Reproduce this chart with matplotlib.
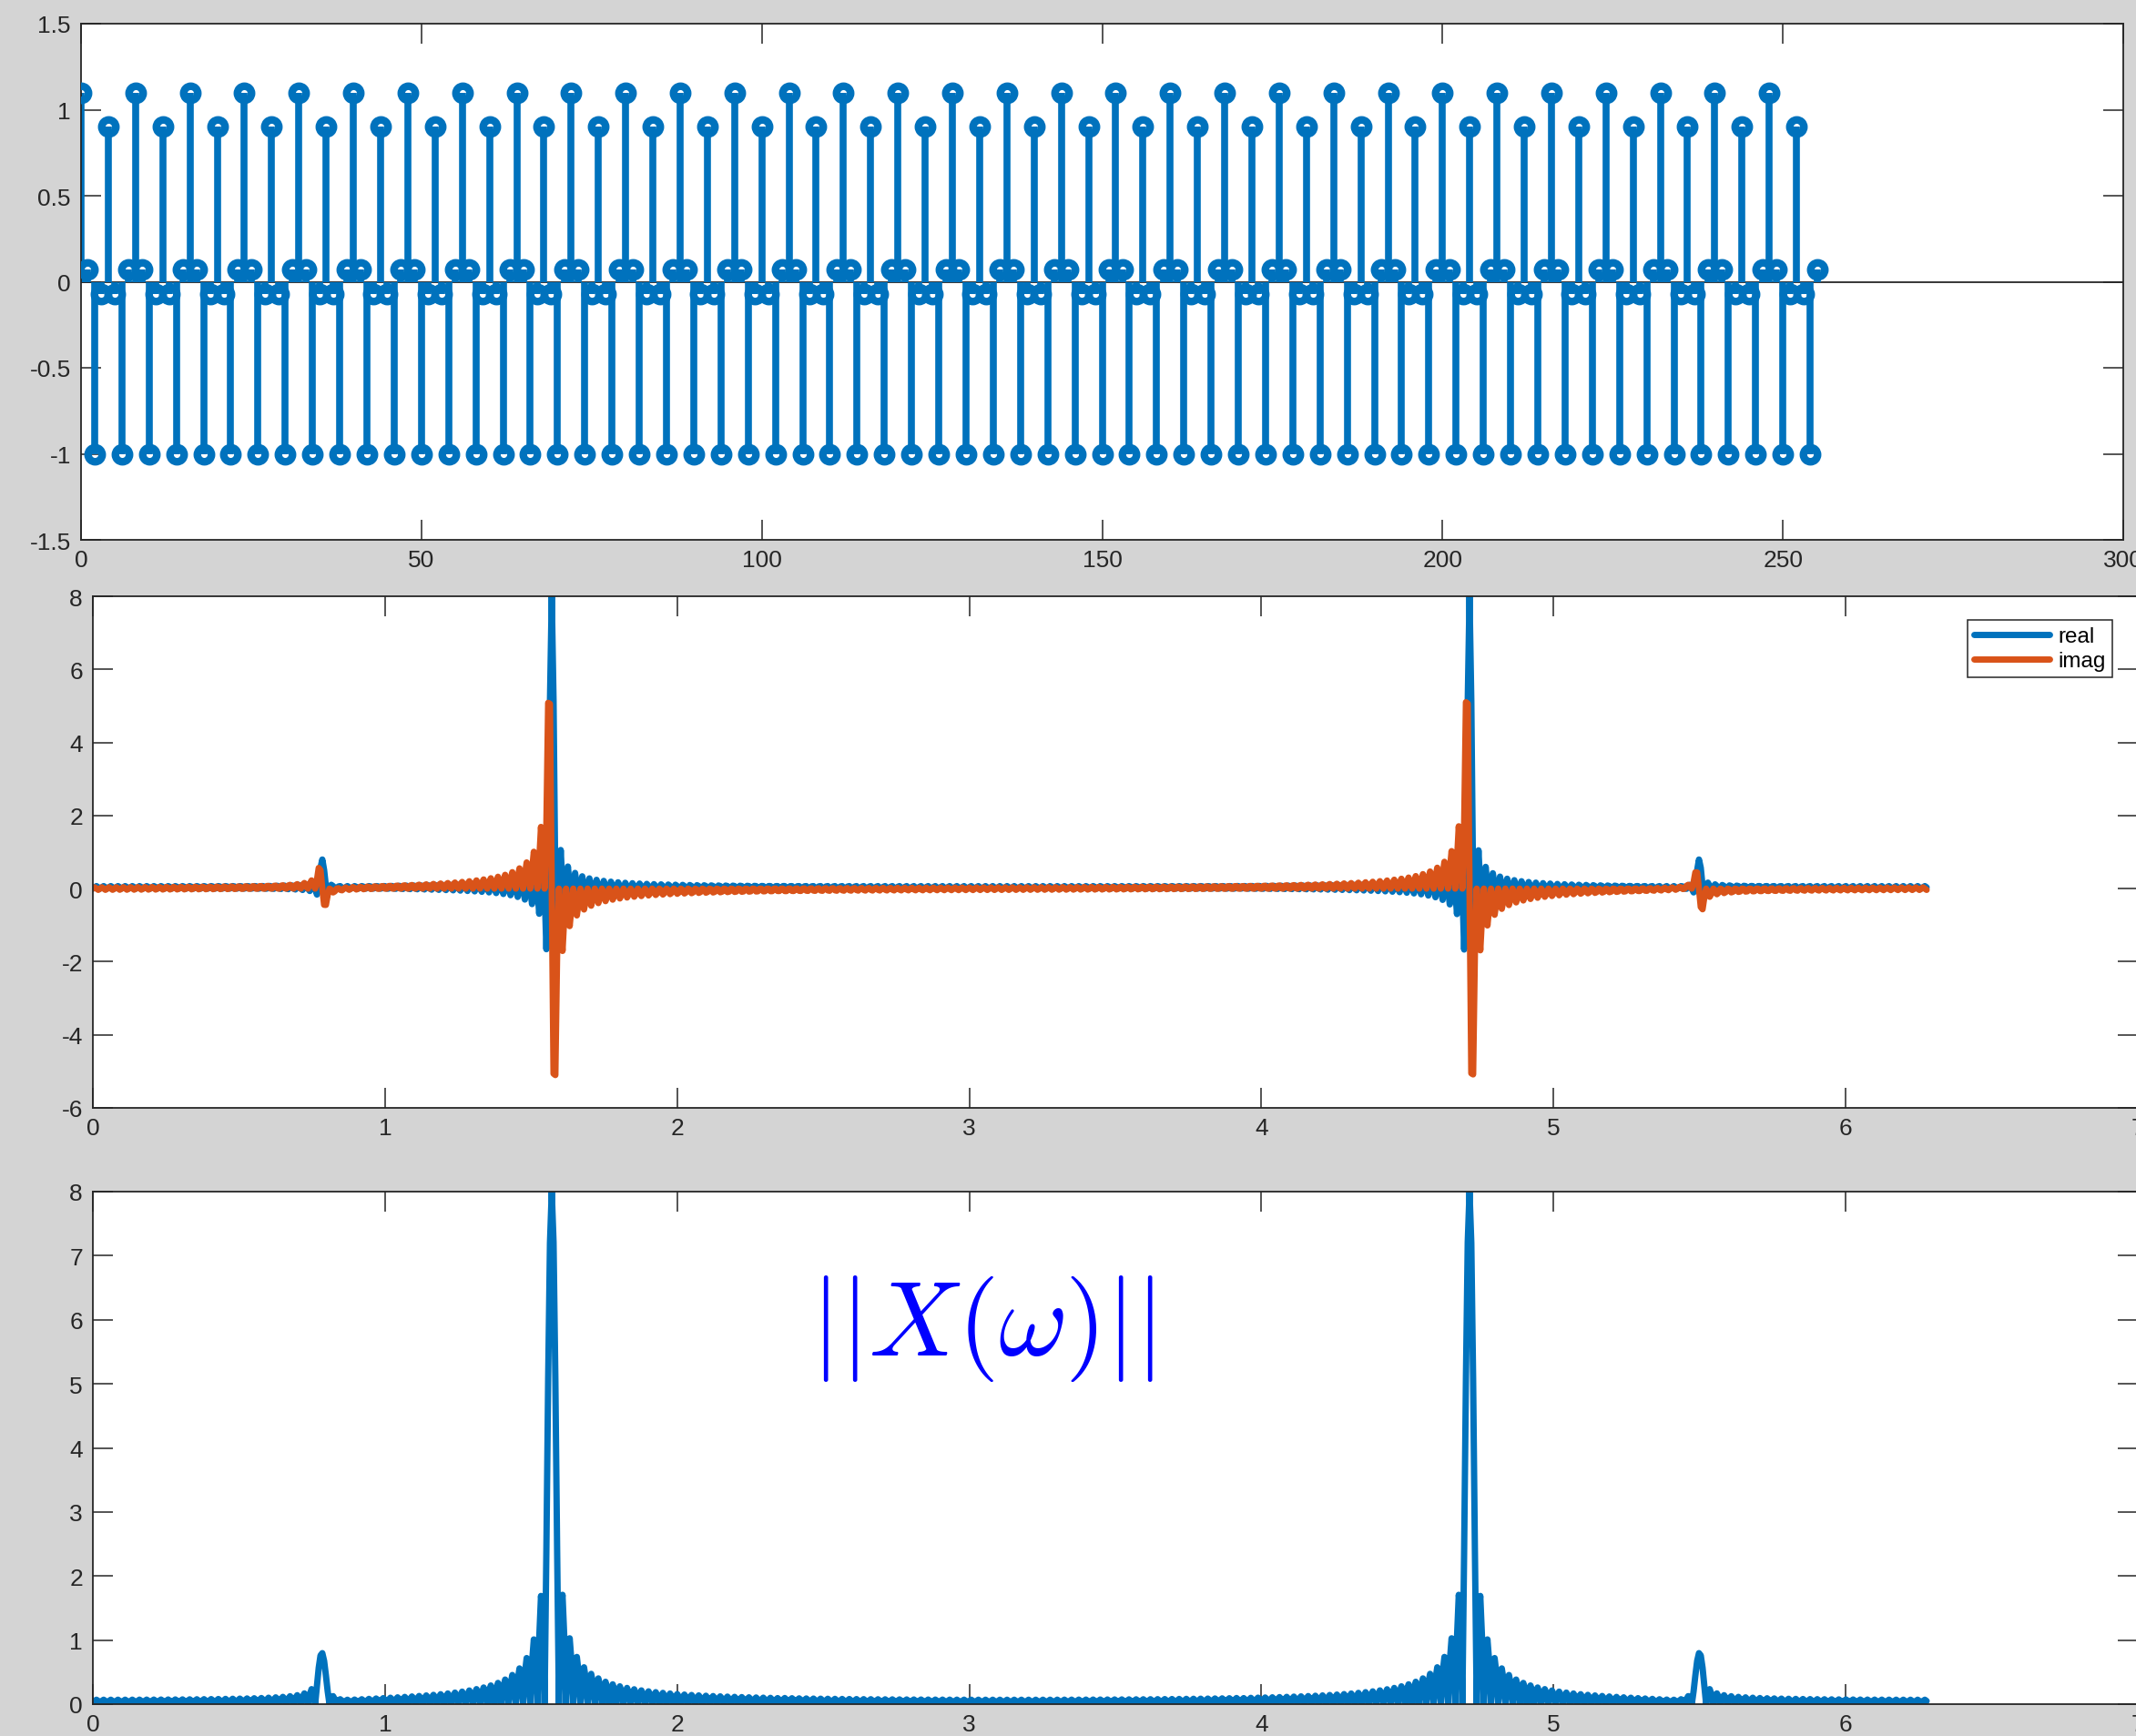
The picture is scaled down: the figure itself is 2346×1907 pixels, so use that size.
import numpy as np
import matplotlib
matplotlib.use('Agg')
import matplotlib.pyplot as plt
from matplotlib.ticker import FuncFormatter

period_vals = [1.1, 0.07, -1.0, -0.07, 0.9, -0.07, -1.0, 0.07]
n_periods = 32
x = np.array(period_vals * n_periods)
n = np.arange(len(x))

# spectrum: zero-padded FFT of the samples, scaled so the main peak is 8
nfft = 1024
scale = 16
X = np.fft.fft(x, nfft) / scale
w = 2 * np.pi * np.arange(nfft) / nfft

# couleurs MATLAB
BLUE = '#0072BD'
ORANGE = '#D95319'
AXC = '#262626'

plt.rcParams['font.family'] = ['Liberation Sans', 'DejaVu Sans']
plt.rcParams['axes.unicode_minus'] = False
plt.rcParams['mathtext.fontset'] = 'cm'
plt.rcParams['path.simplify'] = False

fig = plt.figure(figsize=(23.46, 19.08), dpi=100, facecolor='#d4d4d4')
W, H = 2346, 1908

def box(l, t, r, b):
    return [l / W, 1 - b / H, (r - l) / W, (b - t) / H]

ax1 = fig.add_axes(box(89, 27, 2332, 594))
ax2 = fig.add_axes(box(102, 656, 2348, 1218))
ax3 = fig.add_axes(box(102, 1310, 2348, 1873))

fmt = FuncFormatter(lambda v, p: '%g' % v)

def style(ax):
    for s in ax.spines.values():
        s.set_color(AXC)
        s.set_linewidth(1.3)
    ax.tick_params(direction='in', length=16, width=1.1, colors=AXC,
                   labelsize=19, top=True, right=True)
    ax.tick_params(axis='x', pad=7)
    ax.tick_params(axis='y', pad=8)
    ax.xaxis.set_major_formatter(fmt)
    ax.yaxis.set_major_formatter(fmt)

# signal
ml, sl, bl = ax1.stem(n, x, linefmt='-', markerfmt='o', basefmt=' ')
plt.setp(sl, color=BLUE, linewidth=5.5, zorder=2)
plt.setp(ml, color=BLUE, markerfacecolor='none', markeredgewidth=6,
         markersize=11.2, zorder=3)
ax1.axhline(0, color=AXC, lw=1.3, zorder=1)
ax1.set_xlim(0, 300)
ax1.set_ylim(-1.5, 1.5)
ax1.set_xticks(np.arange(0, 301, 50))
ax1.set_yticks(np.arange(-1.5, 1.51, 0.5))
style(ax1)

# partie reelle / imaginaire
ax2.plot(w, X.real, color=BLUE, lw=5, label='real', solid_capstyle='round')
ax2.plot(w, X.imag, color=ORANGE, lw=5, label='imag', solid_capstyle='round')
ax2.set_xlim(0, 7)
ax2.set_ylim(-6, 8)
ax2.set_xticks(np.arange(0, 8))
ax2.set_yticks(np.arange(-6, 9, 2))
style(ax2)
leg = ax2.legend(loc='upper right', bbox_to_anchor=(0.9875, 0.954),
                 borderaxespad=0, fancybox=False, fontsize=17.5,
                 handlelength=3.4, handletextpad=0.4, borderpad=0.3,
                 labelspacing=0.2, framealpha=1)
leg.get_frame().set_edgecolor(AXC)
leg.get_frame().set_linewidth(1.1)
for t in leg.get_texts():
    t.set_color('black')

# module
ax3.plot(w, np.abs(X), color=BLUE, lw=5, solid_capstyle='round')
ax3.set_xlim(0, 7)
ax3.set_ylim(0, 8)
ax3.set_xticks(np.arange(0, 8))
ax3.set_yticks(np.arange(0, 9))
style(ax3)
ax3.text(2.455, 5.87, r'$||X(\omega)||$', color='blue', fontsize=84,
         ha='left', va='center')

fig.savefig('out.png', dpi=100, facecolor=fig.get_facecolor())
